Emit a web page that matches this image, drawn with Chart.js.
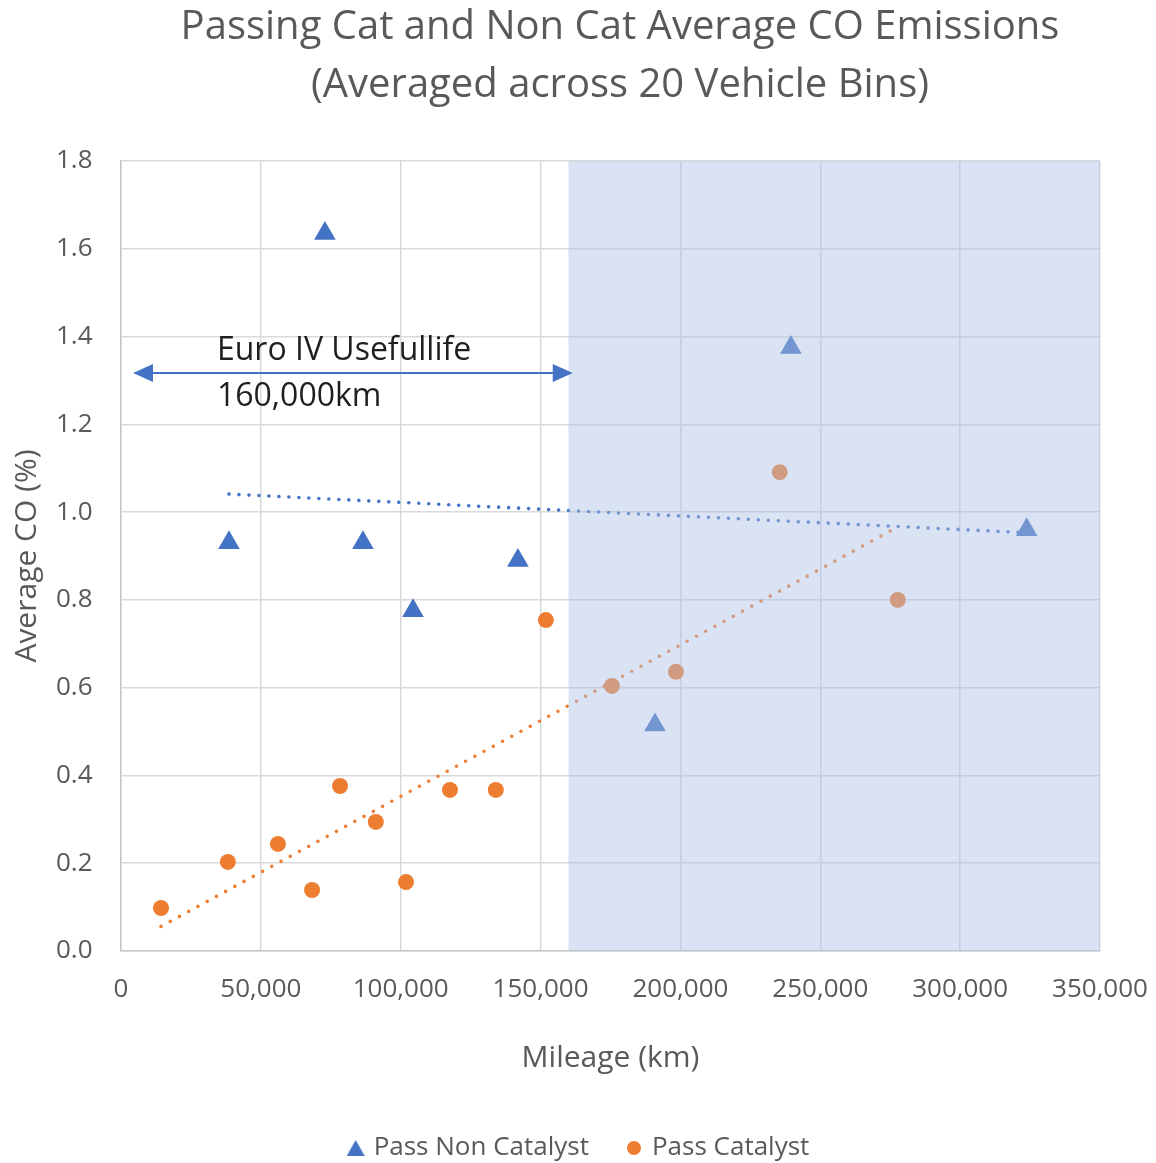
<!DOCTYPE html>
<html><head><meta charset="utf-8">
<script src="https://cdn.jsdelivr.net/npm/chart.js@4.4.0/dist/chart.umd.min.js"></script>
<style>html,body{margin:0;padding:0;background:#fff}#wrap{width:1156px;height:1163px}</style>
</head><body><div id="wrap"><canvas id="c" width="1156" height="1163"></canvas></div>
<script>
const titleLines = ['Passing Cat and Non Cat Average CO Emissions', '(Averaged across 20 Vehicle Bins)'];
const seriesNames = ['Pass Non Catalyst', 'Pass Catalyst'];
const nonCatMileage = [38600, 72900, 86500, 104400, 141900, 190900, 239500, 323800];
const nonCatCO = [0.93, 1.635, 0.93, 0.775, 0.89, 0.515, 1.375, 0.96];
const catMileage = [14300, 38200, 56100, 68300, 78300, 91100, 101900, 117600, 134000, 151900, 175500, 198400, 235500, 277700];
const catCO = [0.098, 0.203, 0.244, 0.139, 0.376, 0.294, 0.157, 0.367, 0.367, 0.754, 0.604, 0.636, 1.091, 0.800];
const nonCatTrendX = [38600, 323800];
const nonCatTrendY = [1.041, 0.953];
const catTrendX = [14300, 277700];
const catTrendY = [0.056, 0.966];
const xTickLabels = ['0', '50,000', '100,000', '150,000', '200,000', '250,000', '300,000', '350,000'];
const yTickLabels = ['0.0', '0.2', '0.4', '0.6', '0.8', '1.0', '1.2', '1.4', '1.6', '1.8'];
const xAxisTitle = 'Mileage (km)';
const yAxisTitle = 'Average CO (%)';
const shadedRange = [160000, 350000];
const usefulLifeArrowX = [4300, 161500];
const usefulLifeArrowY = 1.317;
const usefulLifeText = ['Euro IV Usefullife', '160,000km'];
const usefulLifeTextX = 34300;
const usefulLifeTextY = [1.367, 1.262];

const FONT = 'Open Sans';
const GREY = '#595959';
const BLUE = '#4472c4';
const ORANGE = '#ed7d31';

const toPts = (xs, ys) => xs.map((v, i) => ({x: v, y: ys[i]}));

function makeMark(kind, color) {
  const cv = document.createElement('canvas');
  const w = kind === 'triangle' ? 18 : 14;
  const h = kind === 'triangle' ? 16 : 14;
  cv.width = w; cv.height = h;
  const c = cv.getContext('2d');
  c.fillStyle = color;
  c.beginPath();
  if (kind === 'triangle') { c.moveTo(w / 2, 0); c.lineTo(w, h); c.lineTo(0, h); c.closePath(); }
  else { c.arc(w / 2, h / 2, w / 2, 0, Math.PI * 2); }
  c.fill();
  return cv;
}
const legendMarks = [makeMark('triangle', BLUE), makeMark('circle', ORANGE)];

const overlayPlugin = {
  id: 'overlay',
  beforeDraw(chart) {
    const ctx = chart.ctx;
    ctx.save();
    ctx.fillStyle = '#fff';
    ctx.fillRect(0, 0, chart.width, chart.height);
    ctx.fillStyle = GREY;
    ctx.font = '40px "' + FONT + '"';
    ctx.textAlign = 'center';
    ctx.textBaseline = 'middle';
    ctx.fillText(titleLines[0], 620, 28);
    ctx.fillText(titleLines[1], 620, 86);
    ctx.restore();
  },
  afterDatasetsDraw(chart) {
    const {ctx, chartArea, scales: {x, y}} = chart;
    ctx.save();
    const x0 = x.getPixelForValue(shadedRange[0]);
    const x1 = x.getPixelForValue(shadedRange[1]);
    ctx.fillStyle = 'rgba(173,193,228,0.45)';
    ctx.fillRect(x0, chartArea.top, x1 - x0, chartArea.bottom - chartArea.top);
    // arrow
    const ax0 = x.getPixelForValue(usefulLifeArrowX[0]);
    const ax1 = x.getPixelForValue(usefulLifeArrowX[1]);
    const ay = y.getPixelForValue(usefulLifeArrowY);
    const hl = 20, hw = 9;
    ctx.strokeStyle = BLUE;
    ctx.fillStyle = BLUE;
    ctx.lineWidth = 2.2;
    ctx.beginPath();
    ctx.moveTo(ax0 + hl - 2, ay);
    ctx.lineTo(ax1 - hl + 2, ay);
    ctx.stroke();
    ctx.beginPath();
    ctx.moveTo(ax0, ay); ctx.lineTo(ax0 + hl, ay - hw); ctx.lineTo(ax0 + hl, ay + hw); ctx.closePath(); ctx.fill();
    ctx.beginPath();
    ctx.moveTo(ax1, ay); ctx.lineTo(ax1 - hl, ay - hw); ctx.lineTo(ax1 - hl, ay + hw); ctx.closePath(); ctx.fill();
    ctx.fillStyle = '#1f1f1f';
    ctx.font = '32px "' + FONT + '"';
    ctx.textAlign = 'left';
    ctx.textBaseline = 'middle';
    const tx = x.getPixelForValue(usefulLifeTextX);
    ctx.fillText(usefulLifeText[0], tx, y.getPixelForValue(usefulLifeTextY[0]));
    ctx.fillText(usefulLifeText[1], tx, y.getPixelForValue(usefulLifeTextY[1]));
    ctx.restore();
  }
};

new Chart(document.getElementById('c'), {
  type: 'scatter',
  data: {
    datasets: [
      {label: seriesNames[0], data: toPts(nonCatMileage, nonCatCO), pointStyle: 'triangle', pointRadius: 12.5,
       backgroundColor: BLUE, borderColor: BLUE, borderWidth: 0},
      {label: seriesNames[1], data: toPts(catMileage, catCO), pointStyle: 'circle', pointRadius: 8,
       backgroundColor: ORANGE, borderColor: ORANGE, borderWidth: 0},
      {label: 'trend1', data: toPts(nonCatTrendX, nonCatTrendY), showLine: true, pointRadius: 0,
       borderColor: BLUE, borderWidth: 3.6, borderDash: [0, 10], borderCapStyle: 'round'},
      {label: 'trend2', data: toPts(catTrendX, catTrendY), showLine: true, pointRadius: 0,
       borderColor: ORANGE, borderWidth: 3.6, borderDash: [0, 10.5], borderCapStyle: 'round'}
    ]
  },
  options: {
    responsive: false,
    animation: false,
    devicePixelRatio: 1,
    layout: {padding: {top: 161, left: 60, right: 56, bottom: -8}},
    plugins: {
      title: {display: false},
      tooltip: {enabled: false},
      legend: {
        position: 'bottom',
        labels: {
          usePointStyle: true, boxHeight: 13, boxWidth: 10, padding: 40,
          color: GREY, font: {family: FONT, size: 26},
          generateLabels: chart => Chart.defaults.plugins.legend.labels.generateLabels(chart)
            .filter(it => it.datasetIndex < 2)
            .map(it => Object.assign(it, {pointStyle: legendMarks[it.datasetIndex]}))
        }
      }
    },
    scales: {
      x: {
        type: 'linear', min: 0, max: 350000,
        afterFit: s => { s.height = 144; s.paddingLeft = 0; s.paddingRight = 0; },
        afterBuildTicks: s => { s.ticks = xTickLabels.map((t, i) => ({value: i * 50000})); },
        ticks: {padding: 23, color: GREY, font: {family: FONT, size: 26}, maxRotation: 0,
                callback: (v, i) => xTickLabels[i]},
        grid: {color: '#d9d9d9', lineWidth: 1.5, drawTicks: false},
        border: {color: '#c8c8c8', width: 1.5},
        title: {display: true, text: xAxisTitle, color: GREY, font: {family: FONT, size: 30},
                padding: {top: 0, bottom: 19}}
      },
      y: {
        min: 0, max: 1.8,
        afterFit: s => { s.width = 61; s.paddingTop = 0; s.paddingBottom = 0; },
        afterBuildTicks: s => { s.ticks = yTickLabels.map((t, i) => ({value: i * 0.2})); },
        ticks: {mirror: true, crossAlign: 'far', padding: -65, color: GREY, font: {family: FONT, size: 26},
                callback: (v, i) => yTickLabels[i]},
        grid: {color: '#d9d9d9', lineWidth: 1.5, drawTicks: false},
        border: {color: '#c8c8c8', width: 1.5},
        title: {display: true, text: yAxisTitle, color: GREY, font: {family: FONT, size: 30},
                padding: {top: -51, bottom: 0}}
      }
    }
  },
  plugins: [overlayPlugin]
});
</script></body></html>
